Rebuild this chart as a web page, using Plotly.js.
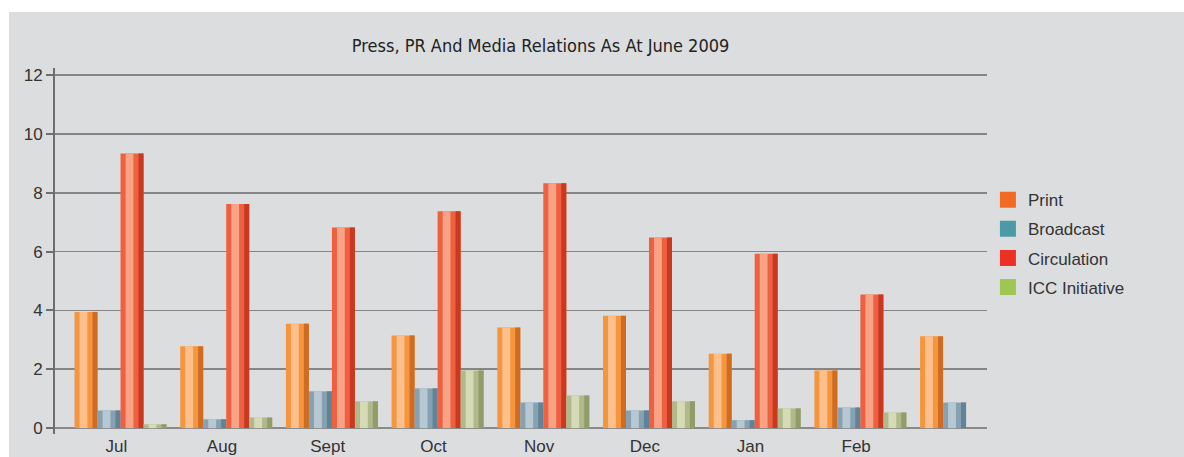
<!DOCTYPE html>
<html>
<head>
<meta charset="utf-8">
<script src="https://cdn.plot.ly/plotly-3.0.1.min.js"></script>
<style>
html,body{margin:0;padding:0;background:#ffffff;width:1184px;height:457px;overflow:hidden;}
#chart{position:absolute;left:9px;top:12px;width:1175px;height:445px;}
</style>
</head>
<body>
<div id="chart"></div>
<script>
// ---- data ----
const months = ['Jul','Aug','Sept','Oct','Nov','Dec','Jan','Feb',''];
const printVals = [3.95, 2.78, 3.55, 3.15, 3.42, 3.82, 2.53, 1.96, 3.12];
const broadcastVals = [0.60, 0.30, 1.25, 1.35, 0.87, 0.60, 0.27, 0.70, 0.87];
const circulationVals = [9.33, 7.62, 6.82, 7.37, 8.32, 6.48, 5.93, 4.54, null];
const iccVals = [0.13, 0.36, 0.91, 1.96, 1.11, 0.91, 0.67, 0.53, null];

const seriesNames = ['Print','Broadcast','Circulation','ICC Initiative'];
const seriesData = [printVals, broadcastVals, circulationVals, iccVals];
const legendColors = ['#f26b22','#4a9aa8','#ee3024','#9dc84f'];
const baseColors = ['#f5963f','#86a2b2','#ee6040','#b0b98a'];
const lightColors = ['#fdc08c','#b8c8d2','#f9a386','#d6dab6'];
const darkColors = ['#cf6c22','#5f8397','#c9391f','#919c69'];

const xIdx = months.map((m,i)=>i);
const W = 0.2176;
const traces = [];
seriesData.forEach((vals,k)=>{
  const off = -2*W + k*W;
  const mk = (color, o, w) => ({
    type:'bar', x:xIdx, y:vals, offset:o, width:w,
    marker:{color:color, line:{width:0}}, showlegend:false, hoverinfo:'skip'
  });
  traces.push(Object.assign(mk(baseColors[k], off, W), {name:seriesNames[k], hoverinfo:'y+name'}));
  traces.push(mk(lightColors[k], off + W*0.22, W*0.34));
  traces.push(mk(darkColors[k], off + W*0.78, W*0.22));
});
seriesNames.forEach((n,k)=>{
  traces.push({type:'scatter', mode:'markers', x:[null], y:[null], name:n,
    marker:{symbol:'square', size:16, color:legendColors[k], line:{width:0}},
    showlegend:true, legendgroup:'g'+k});
});

const layout = {
  width:1175, height:445,
  paper_bgcolor:'#dcdddf', plot_bgcolor:'#dcdddf',
  margin:{l:46, r:197, t:56, b:23, pad:0},
  barmode:'overlay',
  title:{text:'Press, PR And Media Relations As At June 2009',
    font:{family:'DejaVu Sans Condensed, Liberation Sans Narrow, sans-serif', size:18, color:'#222'},
    x:0.521, xanchor:'center', y:0.924, yanchor:'middle', xref:'paper'},
  font:{family:'Liberation Sans, Arial, sans-serif', color:'#333'},
  xaxis:{range:[-0.62, 8.198], tickvals:xIdx.map(i=>i-0.04), ticktext:months, showgrid:false,
    zeroline:false, showline:false, ticks:'', tickfont:{size:17, color:'#333',
    family:'Liberation Sans, Arial, sans-serif'}, fixedrange:true},
  yaxis:{range:[-0.2, 12.24], tickvals:[0,2,4,6,8,10,12], showgrid:true,
    gridcolor:'#858585', gridwidth:1.6, zeroline:true, zerolinecolor:'#8a8a8a', zerolinewidth:2.5,
    showline:true, linecolor:'#6e6e6e', linewidth:2, ticks:'outside', ticklen:7,
    tickcolor:'#6e6e6e', tickwidth:2, tickfont:{size:17, color:'#333'}, fixedrange:true},
  legend:{x:1.001, xanchor:'left', y:0.52, yanchor:'middle', bgcolor:'rgba(0,0,0,0)',
    font:{size:17, color:'#333'}, tracegroupgap:4, itemwidth:30},
  showlegend:true
};
Plotly.newPlot('chart', traces, layout, {displayModeBar:false, staticPlot:true});
</script>
</body>
</html>
